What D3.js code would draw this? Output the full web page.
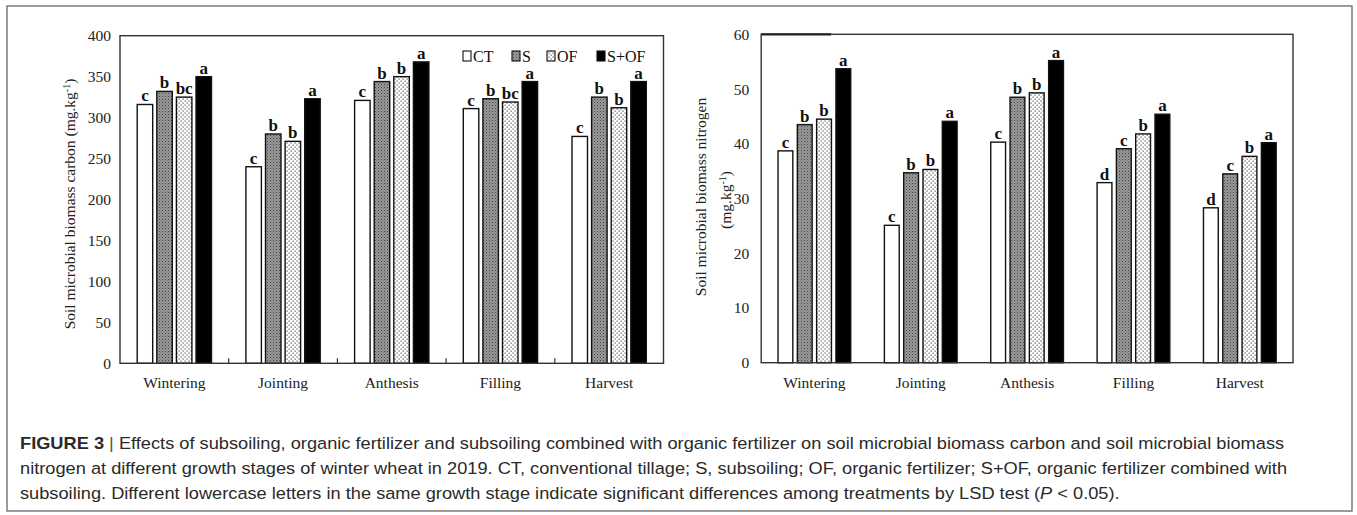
<!DOCTYPE html>
<html>
<head>
<meta charset="utf-8">
<script src="https://cdn.jsdelivr.net/npm/d3@7"></script>
<style>
  html, body { margin: 0; padding: 0; background: #fff; }
  svg { display: block; }
</style>
</head>
<body>
<svg id="fig" width="1357" height="515"></svg>
<script>
// Growth stages and treatments
const stages = ["Wintering", "Jointing", "Anthesis", "Filling", "Harvest"];
const treatments = ["CT", "S", "OF", "S+OF"];

// Soil microbial biomass carbon (mg.kg-1), one array per treatment
const mbcCT   = [316, 240, 321, 311, 277];
const mbcS    = [332, 280, 344, 323, 325];
const mbcOF   = [325, 271, 350, 319, 312];
const mbcSOF  = [350, 323, 368, 344, 344];
// LSD significance letters for carbon
const mbcLetCT  = ["c", "c", "c", "c", "c"];
const mbcLetS   = ["b", "b", "b", "b", "b"];
const mbcLetOF  = ["bc", "b", "b", "bc", "b"];
const mbcLetSOF = ["a", "a", "a", "a", "a"];

// Soil microbial biomass nitrogen (mg.kg-1)
const mbnCT   = [38.7, 25.1, 40.3, 32.9, 28.3];
const mbnS    = [43.5, 34.7, 48.5, 39.1, 34.5];
const mbnOF   = [44.5, 35.3, 49.3, 41.8, 37.7];
const mbnSOF  = [53.7, 44.1, 55.2, 45.4, 40.2];
// LSD significance letters for nitrogen
const mbnLetCT  = ["c", "c", "c", "d", "d"];
const mbnLetS   = ["b", "b", "b", "c", "c"];
const mbnLetOF  = ["b", "b", "b", "b", "b"];
const mbnLetSOF = ["a", "a", "a", "a", "a"];

// Y tick values
const mbcTicks = [0, 50, 100, 150, 200, 250, 300, 350, 400];
const mbnTicks = [0, 10, 20, 30, 40, 50, 60];

const svg = d3.select("#fig");
const SERIF = "'Liberation Serif', 'Times New Roman', serif";

// Fill patterns: plain, stippled grey, dotted white, solid black
const defs = svg.append("defs");
const pS = defs.append("pattern").attr("id", "patS")
  .attr("patternUnits", "userSpaceOnUse").attr("width", 3).attr("height", 3);
pS.append("rect").attr("width", 3).attr("height", 3).attr("fill", "#999");
pS.append("rect").attr("x", 0).attr("y", 0).attr("width", 1).attr("height", 1).attr("fill", "#444");
pS.append("rect").attr("x", 1.5).attr("y", 1.5).attr("width", 1).attr("height", 1).attr("fill", "#666");
const pOF = defs.append("pattern").attr("id", "patOF")
  .attr("patternUnits", "userSpaceOnUse").attr("width", 4).attr("height", 4);
pOF.append("rect").attr("width", 4).attr("height", 4).attr("fill", "#fff");
pOF.append("rect").attr("x", 0.5).attr("y", 0.5).attr("width", 1.2).attr("height", 1.2).attr("fill", "#555");
pOF.append("rect").attr("x", 2.5).attr("y", 2.5).attr("width", 1.2).attr("height", 1.2).attr("fill", "#555");

const fills = { "CT": "#fff", "S": "url(#patS)", "OF": "url(#patOF)", "S+OF": "#000" };

// Outer figure border
svg.append("rect").attr("x", 7).attr("y", 6).attr("width", 1345).attr("height", 505)
  .attr("fill", "none").attr("stroke", "#666").attr("stroke-width", 1.3);

function drawPanel(cfg) {
  const g = svg.append("g");
  const y = d3.scaleLinear().domain(cfg.domain).range([cfg.bottom, cfg.top]);
  const x0 = d3.scaleBand().domain(stages).range([cfg.left, cfg.right]).padding(0);
  const half = cfg.spread / 2;
  const x1 = d3.scaleBand().domain(treatments)
    .range([x0.bandwidth() / 2 - half, x0.bandwidth() / 2 + half])
    .paddingInner(cfg.inner).paddingOuter(0);

  const rows = [];
  stages.forEach((st, i) => {
    treatments.forEach((t, j) => {
      rows.push({ stage: st, trt: t, value: cfg.values[j][i], letter: cfg.letters[j][i] });
    });
  });

  // Bars
  g.selectAll("rect.bar").data(rows).join("rect")
    .attr("class", "bar")
    .attr("x", d => x0(d.stage) + x1(d.trt))
    .attr("y", d => y(d.value))
    .attr("width", x1.bandwidth())
    .attr("height", d => y(0) - y(d.value))
    .attr("fill", d => fills[d.trt])
    .attr("stroke", "#111").attr("stroke-width", 1.4);

  // Significance letters
  g.selectAll("text.sig").data(rows).join("text")
    .attr("class", "sig")
    .attr("x", d => x0(d.stage) + x1(d.trt) + x1.bandwidth() / 2)
    .attr("y", d => y(d.value) - 3)
    .attr("text-anchor", "middle")
    .attr("font-family", SERIF).attr("font-weight", "bold").attr("font-size", 17)
    .attr("fill", "#111")
    .text(d => d.letter);

  // Plot frame
  g.append("rect").attr("x", cfg.left).attr("y", cfg.top)
    .attr("width", cfg.right - cfg.left).attr("height", cfg.bottom - cfg.top)
    .attr("fill", "none").attr("stroke", "#333").attr("stroke-width", 1.4);

  // Y axis labels
  const yAxis = d3.axisLeft(y).tickValues(cfg.ticks).tickSize(0).tickPadding(cfg.tickPad);
  const ya = g.append("g").attr("transform", `translate(${cfg.left},0)`).call(yAxis);
  ya.select(".domain").remove();
  ya.selectAll("text").attr("font-family", SERIF).attr("font-size", 15.5).attr("fill", "#222");

  // X axis labels
  const xAxis = d3.axisBottom(x0).tickSize(0).tickPadding(14);
  const xa = g.append("g").attr("transform", `translate(0,${cfg.bottom})`).call(xAxis);
  xa.select(".domain").remove();
  xa.selectAll("text").attr("font-family", SERIF).attr("font-size", 15.5).attr("fill", "#222");

  // Group separator ticks
  if (cfg.sepTicks) {
    g.selectAll("line.sep").data(stages.slice(1)).join("line")
      .attr("class", "sep")
      .attr("x1", d => x0(d)).attr("x2", d => x0(d))
      .attr("y1", cfg.bottom).attr("y2", cfg.bottom - 5)
      .attr("stroke", "#333").attr("stroke-width", 1.2);
  }

  // Y axis title
  cfg.title.forEach(line => {
    const t = g.append("text")
      .attr("transform", `translate(${line.x},${line.y}) rotate(-90)`)
      .attr("text-anchor", "middle")
      .attr("font-family", SERIF).attr("font-size", 15.5).attr("fill", "#222");
    t.append("tspan").text(line.main);
    if (line.unit) {
      t.append("tspan").text(line.unit);
      t.append("tspan").attr("baseline-shift", "super").attr("font-size", 10).text("-1");
      t.append("tspan").text(")");
    }
  });
  return g;
}

drawPanel({
  left: 120, right: 663.5, top: 35.7, bottom: 363.3,
  domain: [0, 400], ticks: mbcTicks, tickPad: 9,
  spread: 74.3, inner: 0.21,
  values: [mbcCT, mbcS, mbcOF, mbcSOF],
  letters: [mbcLetCT, mbcLetS, mbcLetOF, mbcLetSOF],
  sepTicks: true,
  title: [{ x: 75, y: 204, main: "Soil microbial biomass carbon ", unit: "(mg.kg" }]
});

const right = drawPanel({
  left: 761.2, right: 1293, top: 34.3, bottom: 362.7,
  domain: [0, 60], ticks: mbnTicks, tickPad: 12,
  spread: 72.7, inner: 0.233,
  values: [mbnCT, mbnS, mbnOF, mbnSOF],
  letters: [mbnLetCT, mbnLetS, mbnLetOF, mbnLetSOF],
  sepTicks: false,
  title: [
    { x: 706, y: 197, main: "Soil microbial biomass nitrogen" },
    { x: 731, y: 200, main: "", unit: "(mg.kg" }
  ]
});
// heavier stroke along the top-left of the nitrogen frame
right.append("line").attr("x1", 761.2).attr("x2", 831).attr("y1", 34.3).attr("y2", 34.3)
  .attr("stroke", "#222").attr("stroke-width", 2.2);

// Legend (carbon panel)
const legX = [463, 512, 547, 597];
const leg = svg.append("g");
treatments.forEach((t, i) => {
  leg.append("rect").attr("x", legX[i]).attr("y", 51).attr("width", 8).attr("height", 10)
    .attr("fill", fills[t]).attr("stroke", "#111").attr("stroke-width", 1.1);
  leg.append("text").attr("x", legX[i] + 10).attr("y", 61.5)
    .attr("font-family", SERIF).attr("font-size", 16).attr("fill", "#111").text(t);
});

// Caption (set slightly wide)
const SANS = "'Liberation Sans', Arial, sans-serif";
const cap = svg.append("g")
  .attr("transform", "translate(20,0) scale(1.105,1)")
  .attr("font-family", SANS).attr("font-size", 16.5).attr("fill", "#2a2a2a");
const l1 = cap.append("text").attr("x", 0).attr("y", 449);
l1.append("tspan").attr("font-weight", "bold").text("FIGURE 3");
l1.append("tspan").attr("fill", "#555").text(" | ");
l1.append("tspan").text("Effects of subsoiling, organic fertilizer and subsoiling combined with organic fertilizer on soil microbial biomass carbon and soil microbial biomass");
cap.append("text").attr("x", 0).attr("y", 474)
  .text("nitrogen at different growth stages of winter wheat in 2019. CT, conventional tillage; S, subsoiling; OF, organic fertilizer; S+OF, organic fertilizer combined with");
const l3 = cap.append("text").attr("x", 0).attr("y", 499);
l3.append("tspan").text("subsoiling. Different lowercase letters in the same growth stage indicate significant differences among treatments by LSD test (");
l3.append("tspan").attr("font-style", "italic").text("P");
l3.append("tspan").text(" < 0.05).");
</script>
</body>
</html>
